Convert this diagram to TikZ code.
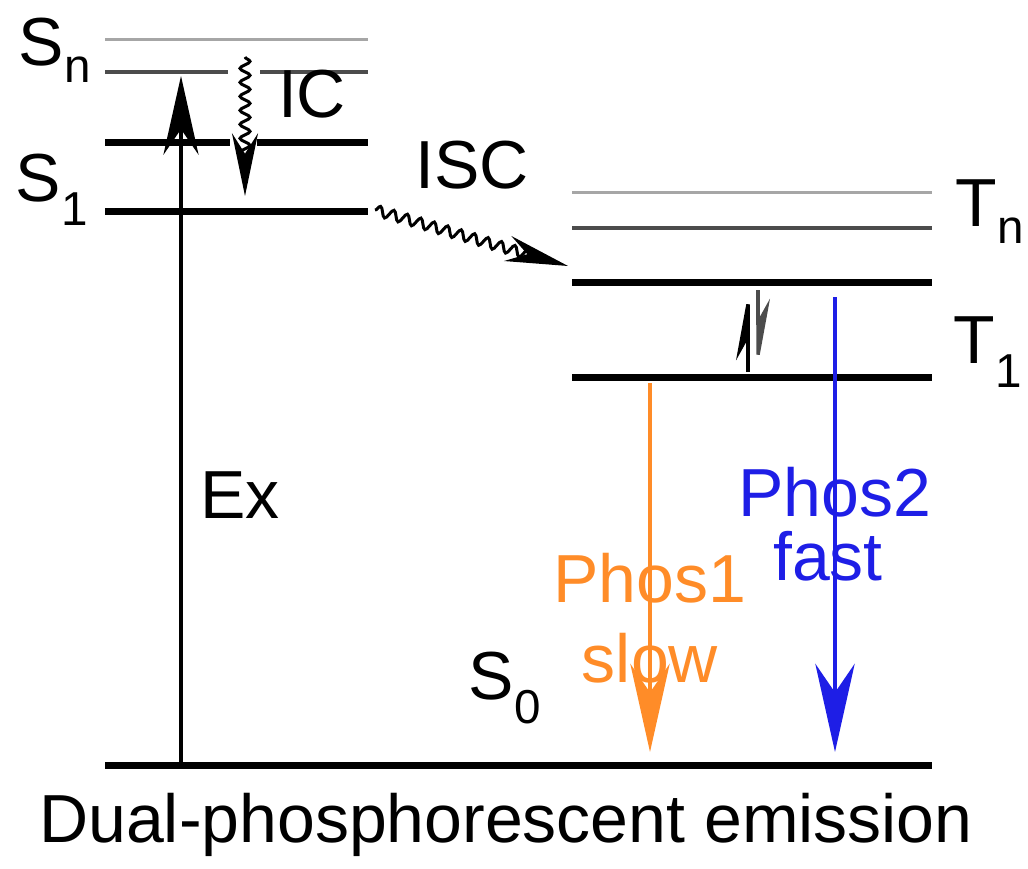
\documentclass[tikz,border=0pt]{standalone}
\usepackage{fontspec}
\setmainfont{Liberation Sans}
\usetikzlibrary{arrows.meta,decorations.pathmorphing}
\begin{document}
\begin{tikzpicture}[x=1pt,y=-1pt,
  lvl/.style={line width=7pt},
  thinlvl/.style={line width=3pt,gray!70},
  midlvl/.style={line width=4pt,black!70},
  lbl/.style={font=\fontsize{68}{76}\selectfont,inner sep=0pt},
  wav/.style={decorate,decoration={snake,amplitude=5pt,segment length=14pt,post length=30pt},line width=3pt},
  bigtip/.style={-{Stealth[scale length=4.2,scale width=2.5]}},
  wavtip/.style={-{Stealth[scale length=3.8,scale width=2.1]}},
  halftip/.style={-{Stealth[scale length=3.5,scale width=1.7,left]}}]
\useasboundingbox (0,0) rectangle (1028,869);
\draw[thinlvl] (105,40) -- (368,40);
\draw[midlvl] (105,72) -- (228,72) (260,72) -- (368,72);
\draw[lvl] (105,143) -- (230,143) (257,143) -- (368,143);
\draw[lvl] (105,212) -- (368,212);
\draw[thinlvl] (572,193) -- (932,193);
\draw[midlvl] (572,228) -- (932,228);
\draw[lvl] (572,282) -- (932,282);
\draw[lvl] (572,377) -- (932,377);
\draw[lvl] (105,765) -- (932,765);
\coordinate (exs) at (181,765); \coordinate (exe) at (181,76);
\draw[line width=3.5pt,bigtip] (exs) -- (exe);
\coordinate (ics) at (245,57); \coordinate (ice) at (245,196);
\draw[wav,wavtip] (ics) -- (ice);
\coordinate (iscs) at (375,210); \coordinate (isce) at (568,266);
\draw[wav,wavtip] (iscs) -- (isce);
\coordinate (ua) at (748,372); \coordinate (ub) at (748,285);
\draw[line width=3.5pt,halftip] (ua) -- (ub);
\coordinate (da) at (758,290); \coordinate (db) at (758,374);
\draw[line width=3.5pt,black!70,halftip] (da) -- (db);
\coordinate (os) at (650,383); \coordinate (oe) at (650,752);
\draw[line width=4pt,color={rgb,255:red,255;green,140;blue,40},bigtip] (os) -- (oe);
\coordinate (bs) at (835,297); \coordinate (be) at (835,752);
\draw[line width=4pt,color={rgb,255:red,30;green,30;blue,230},bigtip] (bs) -- (be);
\node[lbl] (sn) at (55,50) {S\textsubscript{n}};
\node[lbl] (s1) at (52,190) {S\textsubscript{1}};
\node[lbl] (ic) at (312,94) {IC};
\node[lbl] (isc) at (472,165) {ISC};
\node[lbl] (tn) at (990,212) {T\textsubscript{n}};
\node[lbl] (t1) at (988,352) {T\textsubscript{1}};
\node[lbl] (ex) at (240,495) {Ex};
\node[lbl,color={rgb,255:red,255;green,140;blue,40}] (p1) at (650,578) {Phos1};
\node[lbl,color={rgb,255:red,255;green,140;blue,40}] (sl) at (650,658) {slow};
\node[lbl,color={rgb,255:red,30;green,30;blue,230}] (p2) at (835,492) {Phos2};
\node[lbl,color={rgb,255:red,30;green,30;blue,230}] (fa) at (828,556) {fast};
\node[lbl] (s0) at (505,688) {S\textsubscript{0}};
\node[lbl] (cap) at (506,825) {Dual-phosphorescent emission};
\end{tikzpicture}
\end{document}
